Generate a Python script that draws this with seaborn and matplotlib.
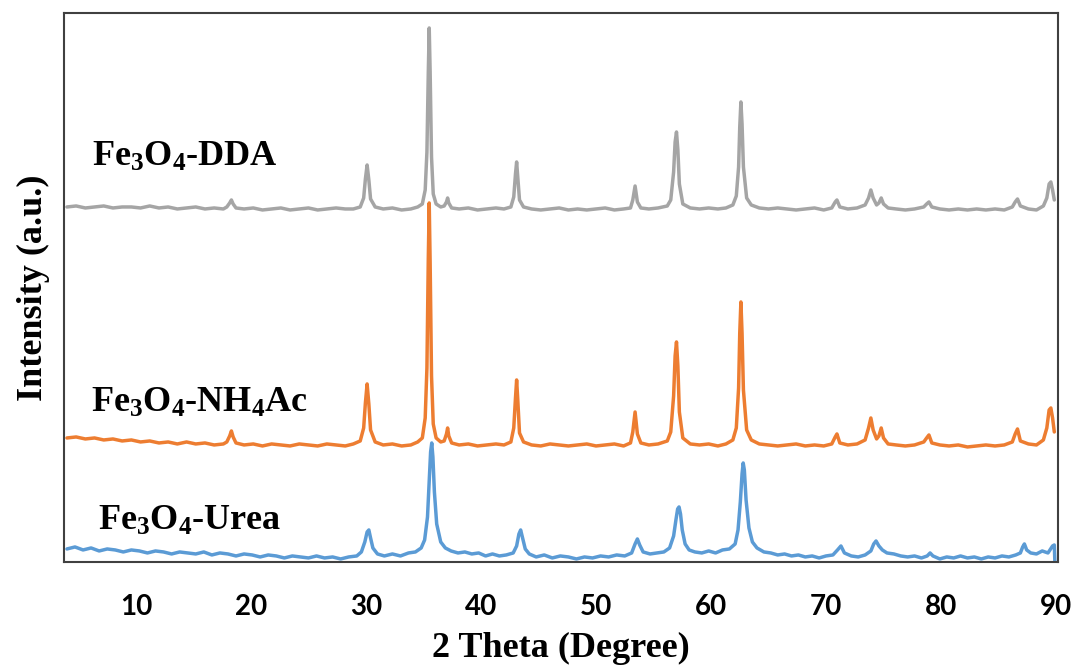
"""XRD patterns of Fe3O4 samples prepared with urea, NH4Ac and DDA."""

import matplotlib
matplotlib.use("Agg")
import matplotlib.pyplot as plt
import pandas as pd
import seaborn as sns

# 2-theta grid shared by the DDA and NH4Ac scans
SHARP_X = [
    4.0, 4.8, 5.6, 6.4, 7.2, 8.0, 8.8, 9.6, 10.4, 11.2, 12.0, 12.8, 13.6, 14.4, 15.2, 16.0, 16.8, 17.6,
    17.9, 18.15, 18.3, 18.45, 18.7,
    19.4, 20.2, 21.0, 21.8, 22.6, 23.4, 24.2, 25.0, 25.8, 26.6, 27.4, 28.2, 28.9,
    29.5, 29.8, 29.95, 30.1, 30.25, 30.4, 30.8,
    31.5, 32.3, 33.1, 33.9, 34.5,
    34.9, 35.15, 35.3, 35.42, 35.5, 35.58, 35.7, 35.85, 36.1, 36.5,
    36.8, 37.0, 37.1, 37.2, 37.45,
    38.1, 38.9, 39.7, 40.5, 41.3, 42.0, 42.6,
    42.85, 43.0, 43.1, 43.2, 43.35, 43.7,
    44.4, 45.2, 46.0, 46.8, 47.6, 48.4, 49.2, 50.0, 50.8, 51.6, 52.4, 53.0,
    53.2, 53.4, 53.6, 53.9,
    54.6, 55.4, 56.2,
    56.5, 56.75, 56.88, 57.0, 57.12, 57.25, 57.55,
    58.2, 59.0, 59.8, 60.6, 61.3, 61.9,
    62.2, 62.4, 62.5, 62.6, 62.7, 62.82, 63.1, 63.5,
    64.2, 65.0, 65.8, 66.6, 67.4, 68.2, 69.0, 69.8, 70.5,
    70.8, 70.95, 71.2,
    71.9, 72.7, 73.4,
    73.7, 73.9, 74.1, 74.4, 74.6, 74.8, 75.0, 75.4,
    76.1, 76.9, 77.7, 78.5,
    78.75, 78.95, 79.2,
    79.9, 80.7, 81.5, 82.3, 83.1, 83.9, 84.7, 85.5, 86.2,
    86.45, 86.65, 86.9,
    87.6, 88.3, 88.9,
    89.2, 89.4, 89.55, 89.7, 89.85,
]

DDA_Y = [
    5, 6, 4, 5, 6, 4, 5, 5, 4, 6, 4, 5, 3, 4, 5, 3, 4, 3,
    5, 9, 12, 8, 4,
    3, 4, 2, 3, 4, 2, 3, 4, 2, 3, 4, 3, 3,
    5, 14, 33, 47, 32, 13, 5,
    3, 4, 2, 3, 5,
    8, 22, 60, 140, 184, 140, 55, 18, 8, 5,
    6, 10, 14, 9, 4,
    3, 4, 2, 3, 4, 3, 5,
    15, 38, 50, 35, 12, 5,
    3, 2, 3, 4, 2, 3, 2, 3, 4, 2, 3, 4,
    12, 26, 10, 4,
    3, 4, 6,
    12, 40, 70, 80, 62, 28, 8,
    4, 3, 4, 3, 4, 7,
    16, 45, 85, 110, 88, 45, 14, 7,
    4, 3, 4, 3, 2, 3, 4, 2, 4,
    10, 12, 5,
    3, 4, 7,
    14, 22, 14, 7, 9, 14, 8, 4,
    3, 2, 3, 5,
    8, 10, 5,
    3, 2, 3, 2, 3, 2, 3, 2, 5,
    10, 13, 6,
    3, 2, 6,
    14, 28, 30, 22, 12,
]

NH4AC_Y = [
    10, 11, 9, 10, 8, 9, 7, 8, 6, 7, 5, 6, 4, 6, 4, 5, 3, 4,
    6, 12, 17, 11, 5,
    3, 4, 2, 4, 3, 2, 4, 3, 2, 4, 3, 2, 4,
    7, 20, 45, 64, 44, 18, 6,
    3, 4, 2, 3, 6,
    10, 30, 80, 190, 245, 185, 72, 24, 10, 6,
    7, 14, 20, 12, 5,
    3, 4, 2, 3, 4, 3, 6,
    20, 50, 68, 48, 15, 6,
    3, 2, 4, 3, 2, 3, 4, 2, 3, 4, 2, 5,
    16, 36, 14, 5,
    3, 4, 7,
    16, 52, 92, 106, 82, 36, 10,
    4, 3, 4, 2, 4, 8,
    20, 60, 115, 146, 115, 58, 18, 8,
    4, 3, 2, 3, 4, 2, 3, 2, 4,
    11, 14, 5,
    3, 4, 8,
    20, 30, 18, 9, 12, 20, 10, 4,
    3, 2, 3, 6,
    10, 13, 5,
    3, 2, 3, 1, 2, 3, 2, 3, 6,
    14, 19, 7,
    4, 3, 8,
    20, 38, 40, 30, 16,
]

UREA_X = [
    4.0, 4.7, 5.4, 6.1, 6.8, 7.5, 8.2, 8.9, 9.6, 10.3, 11.0, 11.7, 12.4, 13.1, 13.8, 14.5, 15.2, 15.9,
    16.6, 17.3, 18.0, 18.7, 19.4, 20.1, 20.8, 21.5, 22.2, 22.9, 23.6, 24.3, 25.0, 25.7, 26.4, 27.1,
    27.8, 28.5, 29.2,
    29.6, 29.9, 30.1, 30.25, 30.4, 30.6, 31.0,
    31.6, 32.3, 33.0, 33.7, 34.3, 34.8,
    35.1, 35.35, 35.5, 35.62, 35.72, 35.82, 35.95, 36.15, 36.5, 36.9,
    37.4, 38.0, 38.6, 39.2, 39.8, 40.4, 41.0, 41.6, 42.2, 42.8,
    43.1, 43.3, 43.45, 43.6, 43.85, 44.2,
    44.8, 45.5, 46.2, 46.9, 47.6, 48.3, 49.0, 49.7, 50.4, 51.1, 51.8, 52.5, 53.1,
    53.4, 53.6, 53.8, 54.1,
    54.7, 55.3, 55.9, 56.4,
    56.75, 56.95, 57.1, 57.22, 57.35, 57.5, 57.75, 58.1,
    58.6, 59.2, 59.8, 60.4, 61.0, 61.6, 62.1,
    62.35, 62.55, 62.7, 62.8, 62.9, 63.05, 63.3, 63.6, 64.0,
    64.6, 65.2, 65.8, 66.4, 67.0, 67.6, 68.2, 68.8, 69.4, 70.0, 70.6,
    71.0, 71.3, 71.6,
    72.2, 72.8, 73.4, 73.9,
    74.15, 74.35, 74.6, 74.9, 75.3,
    75.9, 76.5, 77.1, 77.7, 78.3, 78.8,
    79.05, 79.3,
    79.9, 80.5, 81.1, 81.7, 82.3, 82.9, 83.5, 84.1, 84.7, 85.3, 85.9, 86.5, 86.9,
    87.1, 87.25, 87.45, 87.8,
    88.3, 88.8, 89.3, 89.7, 89.85, 89.9,
]

UREA_Y = [
    13, 15, 12, 14, 11, 13, 12, 10, 12, 11, 9, 11, 10, 8, 10, 9, 8, 10,
    7, 9, 8, 6, 8, 7, 5, 7, 6, 4, 6, 5, 4, 6, 4, 5,
    3, 5, 6,
    10, 20, 30, 32, 24, 14, 8,
    6, 8, 6, 9, 10, 14,
    22, 45, 80, 110, 119, 105, 70, 38, 20, 14,
    11, 9, 10, 8, 9, 6, 8, 6, 7, 9,
    16, 28, 32, 25, 13, 8,
    5, 7, 4, 6, 5, 3, 5, 4, 6, 5, 7, 6, 9,
    18, 23, 17, 10,
    8, 9, 10, 14,
    26, 42, 53, 55, 48, 32, 18, 12,
    10, 9, 11, 9, 12, 13, 18,
    32, 60, 88, 99, 92, 62, 34, 20, 14,
    10, 9, 7, 8, 6, 7, 5, 6, 4, 6, 7,
    12, 16, 9,
    6, 5, 7, 11,
    18, 21, 16, 12, 9,
    8, 6, 5, 6, 4, 6,
    9, 6,
    3, 5, 4, 6, 4, 5, 3, 5, 4, 6, 5, 7, 9,
    15, 18, 12, 9,
    8, 11, 9, 16, 17, 0,
]

SAMPLES = ["Urea", "NH4Ac", "DDA"]
OFFSETS = [0, 114, 350]
LABELS = ["Fe$_3$O$_4$-Urea", "Fe$_3$O$_4$-NH$_4$Ac", "Fe$_3$O$_4$-DDA"]
LABEL_POS = [(6.7, 32), (6.1, 150), (6.2, 396)]
COLORS = {"Urea": "#5B9BD5", "NH4Ac": "#ED7D31", "DDA": "#A5A5A5"}
X_TICKS = [10, 20, 30, 40, 50, 60, 70, 80, 90]

assert len(SHARP_X) == len(DDA_Y) == len(NH4AC_Y)
assert len(UREA_X) == len(UREA_Y)

frames = []
for name, xs, ys, offset in [
    ("Urea", UREA_X, UREA_Y, OFFSETS[0]),
    ("NH4Ac", SHARP_X, NH4AC_Y, OFFSETS[1]),
    ("DDA", SHARP_X, DDA_Y, OFFSETS[2]),
]:
    part = pd.DataFrame({"two_theta": xs, "intensity": ys})
    part["stacked"] = part["intensity"] + offset
    part["sample"] = name
    frames.append(part)
xrd_df = pd.concat(frames, ignore_index=True)

sns.set_theme(style="white")
plt.rcParams["font.family"] = ["Liberation Serif", "DejaVu Serif"]
plt.rcParams["text.color"] = "black"
plt.rcParams["axes.labelcolor"] = "black"
plt.rcParams["mathtext.fontset"] = "custom"
plt.rcParams["mathtext.rm"] = "Liberation Serif:bold"
plt.rcParams["mathtext.it"] = "Liberation Serif:bold"
plt.rcParams["mathtext.bf"] = "Liberation Serif:bold"

fig, ax = plt.subplots(figsize=(10.73, 6.69), dpi=100)
fig.subplots_adjust(left=0.0596, right=0.986, bottom=0.160, top=0.9806)

for name in SAMPLES:
    sns.lineplot(
        data=xrd_df[xrd_df["sample"] == name],
        x="two_theta",
        y="stacked",
        color=COLORS[name],
        lw=2.5,
        sort=False,
        estimator=None,
        ax=ax,
    )

for label, (lx, ly) in zip(LABELS, LABEL_POS):
    ax.text(lx, ly, label, fontsize=26, fontweight="bold", va="baseline",
            ha="left", color="black")

ax.set_xlim(3.74, 90.17)
ax.set_ylim(0, 549)
ax.set_xticks(X_TICKS)
ax.set_yticks([])
ax.tick_params(axis="x", length=0, pad=23)
for tick in ax.get_xticklabels():
    tick.set_fontfamily("Lato")
    tick.set_fontweight("bold")
    tick.set_fontsize(20)
    tick.set_color("black")

ax.set_xlabel("2 Theta (Degree)", fontsize=26, fontweight="bold", labelpad=9)
ax.set_ylabel("Intensity (a.u.)", fontsize=26, fontweight="bold", labelpad=10)
for spine in ax.spines.values():
    spine.set_color("#404040")
    spine.set_linewidth(1.5)

plt.savefig("out.png", dpi=100)
plt.close()
